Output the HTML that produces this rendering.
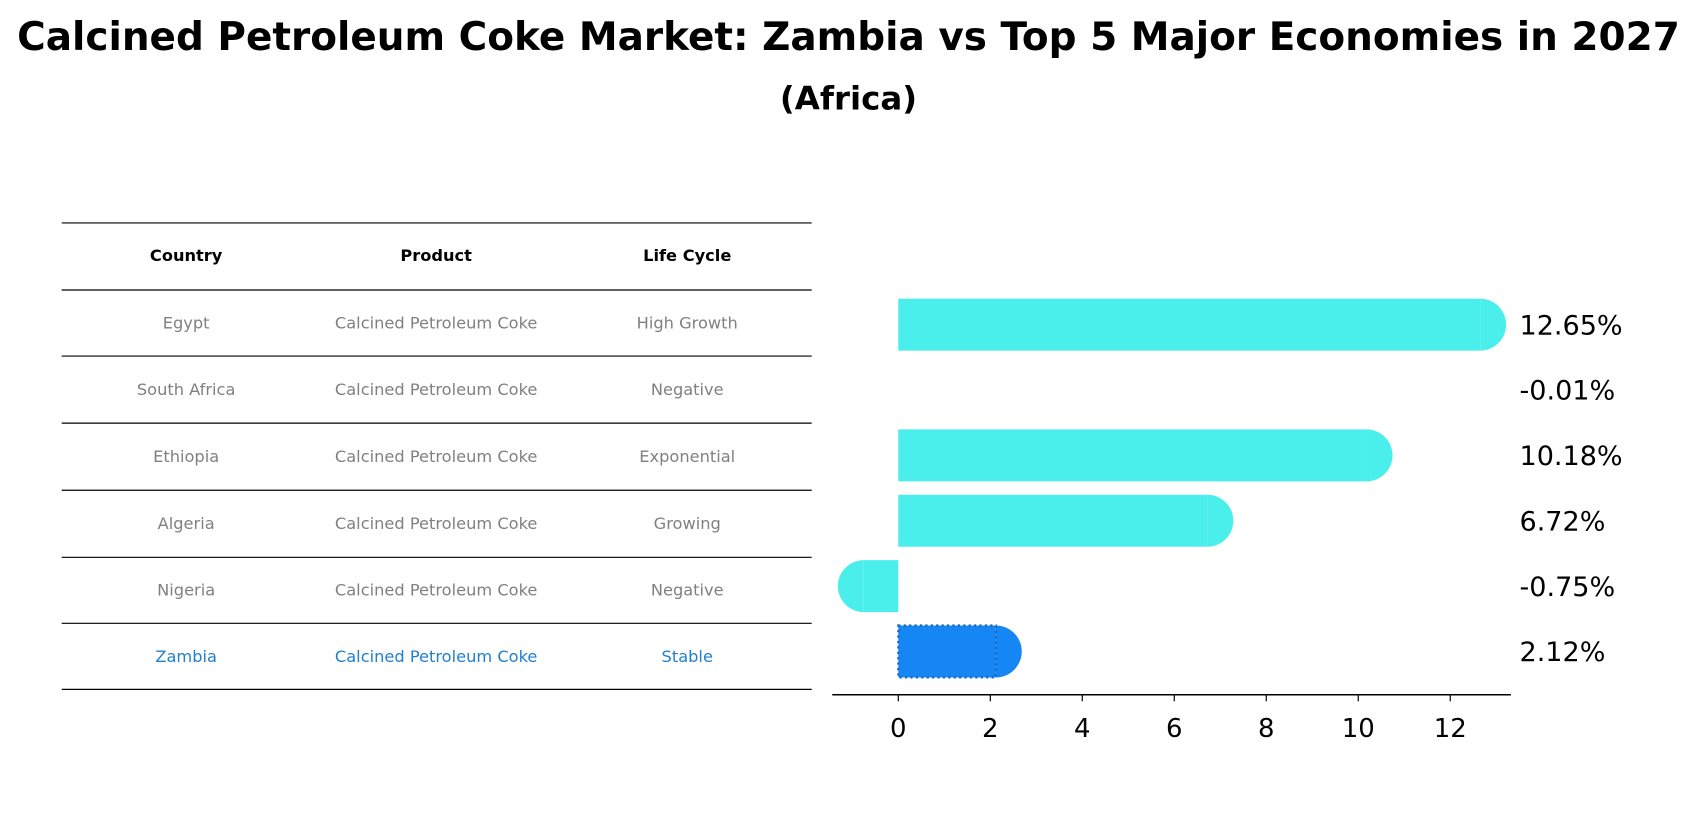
<!DOCTYPE html>
<html><head><meta charset="utf-8"><style>
body{margin:0;background:#fff;font-family:"Liberation Sans","DejaVu Sans",sans-serif;}
svg{display:block;}
</style></head><body>
<svg width="1697" height="823" viewBox="0 0 1568 760.5" preserveAspectRatio="none" xmlns="http://www.w3.org/2000/svg">
<text x="784" y="46" text-anchor="middle" font-size="36" font-weight="bold" font-family="DejaVu Sans, sans-serif">Calcined Petroleum Coke Market: Zambia vs Top 5 Major Economies in 2027</text>
<text x="784" y="101" text-anchor="middle" font-size="30" font-weight="bold" font-family="DejaVu Sans, sans-serif">(Africa)</text>
<g id="table"></g>
<g id="bars"></g>
</svg>
<script>
const countries=["Egypt","South Africa","Ethiopia","Algeria","Nigeria","Zambia"];
const products=["Calcined Petroleum Coke","Calcined Petroleum Coke","Calcined Petroleum Coke","Calcined Petroleum Coke","Calcined Petroleum Coke","Calcined Petroleum Coke"];
const lifeCycles=["High Growth","Negative","Exponential","Growing","Negative","Stable"];
const growth=[12.65,-0.01,10.18,6.72,-0.75,2.12];
const ticks=[0,2,4,6,8,10,12];
const NS="http://www.w3.org/2000/svg";
function mk(tag,attrs,parent){const e=document.createElementNS(NS,tag);for(const k in attrs)e.setAttribute(k,attrs[k]);parent.appendChild(e);return e;}
const tbl=document.getElementById('table');
const rowY=[206,268,329,391,453,515,576,637];
const colX=[172,403,635];
rowY.forEach((y,i)=>{const l=mk('line',{x1:57,x2:750,y1:y,y2:y,stroke:'#000','stroke-width':1.1},tbl);

});
["Country","Product","Life Cycle"].forEach((h,j)=>{const t=mk('text',{x:colX[j],y:241,'text-anchor':'middle','font-size':15,'font-weight':'bold','font-family':'DejaVu Sans, sans-serif'},tbl);t.textContent=h;

});
countries.forEach((c,i)=>{const y=(rowY[i+1]+rowY[i+2])/2+5;const col=i===countries.length-1?'#1f7fd0':'#808080';
[c,products[i],lifeCycles[i]].forEach((v,j)=>{const t=mk('text',{x:colX[j],y:y,'text-anchor':'middle','font-size':15,fill:col,'font-family':'DejaVu Sans, sans-serif'},tbl);t.textContent=v;

});});
const g=document.getElementById('bars');
const x0=830,ppu=42.5;const X=v=>x0+v*ppu;
const Y=i=>300+i*60.4;const h=48,r=24;
growth.forEach((v,i)=>{const last=i===growth.length-1;const fill=last?'#1786f5':'#4aefeb';const y=Y(i);
const xe=X(v);
if(Math.abs(v)>0.05){
const gb=mk('g',{},g);


mk('rect',{x:Math.min(x0,xe),y:y-h/2,width:Math.abs(xe-x0),height:h,fill:fill},gb);
const sign=v>=0?1:0;
mk('path',{d:`M${xe} ${y-r} A${r} ${r} 0 0 ${sign} ${xe} ${y+r} Z`,fill:fill},gb);
if(last)mk('rect',{x:x0,y:y-h/2,width:xe-x0,height:h,fill:'none',stroke:'#1565c0','stroke-width':2,'stroke-dasharray':'2 3'},gb);}
const t=mk('text',{x:1404,y:y+9,'font-size':25,'font-family':'DejaVu Sans, sans-serif'},g);t.textContent=v.toFixed(2)+'%';

});
const ax=mk('line',{x1:769,x2:1396,y1:642,y2:642,stroke:'#000','stroke-width':1.4},g);


ticks.forEach(tv=>{mk('line',{x1:X(tv),x2:X(tv),y1:642,y2:648,stroke:'#000','stroke-width':1.1},g);
const t=mk('text',{x:X(tv),y:681,'text-anchor':'middle','font-size':24,'font-family':'DejaVu Sans, sans-serif'},g);t.textContent=tv;

});
</script>
</body></html>
